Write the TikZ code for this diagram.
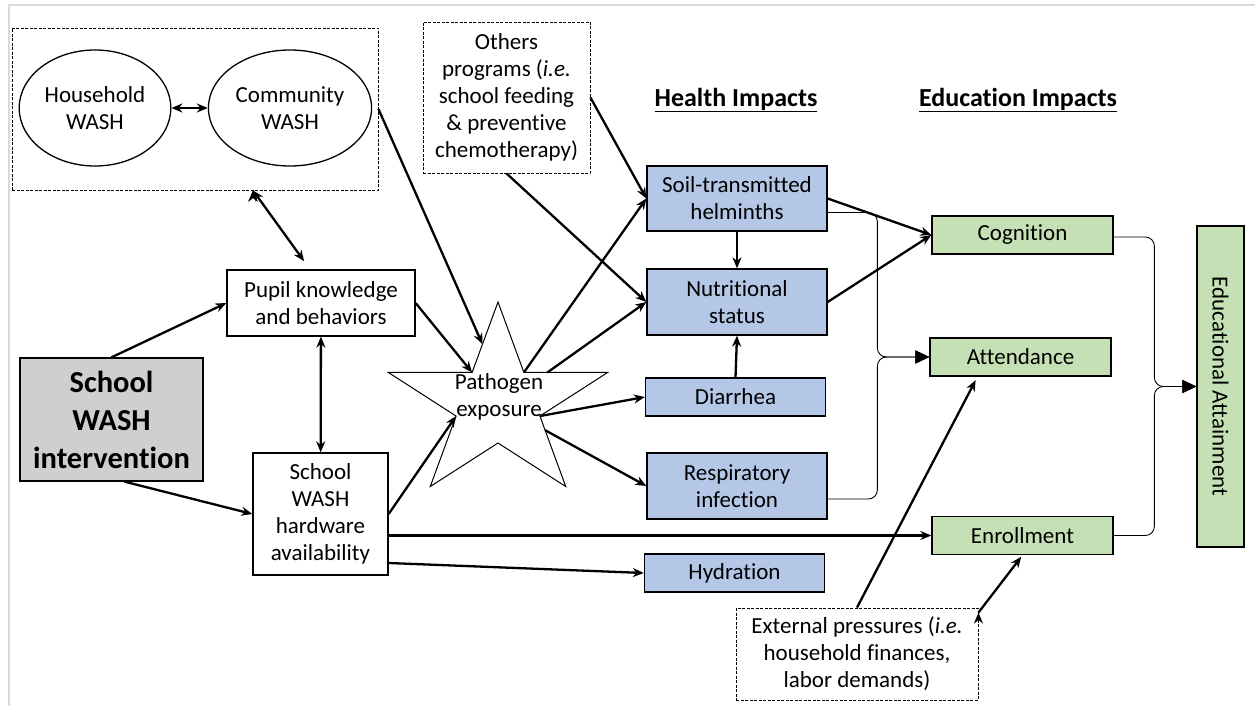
\documentclass[tikz,border=0pt]{standalone}
\usepackage{fontspec}
\setmainfont{Carlito}[Ligatures=CommonOff]
\usetikzlibrary{positioning,shapes,arrows.meta,calc}

\definecolor{healthblue}{HTML}{B4C7E7}
\definecolor{edugreen}{HTML}{C5E0B4}
\definecolor{introgray}{HTML}{D0CECE}

\begin{document}
\begin{tikzpicture}[x=1pt,y=-1pt,font=\fontsize{23}{27}\selectfont,
every node/.style={align=center},
box node/.style={draw,line width=1.3pt,inner sep=1pt},
dash node/.style={draw,line width=0.9pt,dash pattern=on 3pt off 1.5pt,inner sep=1pt},
wash node/.style={ellipse,draw,line width=1.3pt,minimum width=150,minimum height=116},
health node/.style={box node,fill=healthblue,minimum width=180},
edu node/.style={box node,fill=edugreen,minimum width=181,minimum height=38},
title node/.style={font=\bfseries\fontsize{26}{30}\selectfont},
link/.style={draw,line width=2.3pt,-{Stealth[length=11pt,width=9pt]}},
both link/.style={draw,line width=2.3pt,{Stealth[length=11pt,width=9pt]}-{Stealth[length=11pt,width=9pt]}},
join link/.style={draw,line width=0.9pt,rounded corners=9pt,-{Triangle[length=14pt,width=13pt]}}]
\useasboundingbox (0,0) rectangle (1255,706);
\draw[black!15,line width=2pt] (9,706) -- (9,5) -- (1255,5);

% context of the school
\node[dash node,minimum width=366,minimum height=162] (ctx) at (195,109) {};
\node[wash node] (hh) at (95,108) {Household\\WASH};
\node[wash node] (cw) at (290,108) {Community\\WASH};
\node[dash node,minimum width=167,minimum height=151] (oth) at (506.5,97.5) {Others\\programs (\textit{i.e.}\\school feeding\\\& preventive\\chemotherapy)};

% intervention
\node[box node,fill=introgray,minimum width=183,minimum height=123,font=\bfseries\fontsize{30.5}{38}\selectfont] (int) at (111.5,419.5) {School\\WASH\\intervention};
\node[box node,minimum width=188,minimum height=66] (pk) at (321,303) {Pupil knowledge\\and behaviors};
\node[box node,minimum width=135,minimum height=122] (hw) at (320.5,514) {School\\WASH\\hardware\\availability};

% pathogen exposure
\draw[line width=1pt,shift={(498,404)},xscale=1.13] (-90:102) coordinate (pe-0)
  \foreach \a in {1,...,9}{ -- ({-90+36*\a}:{ifthenelse(mod(\a,2)==0,102,39)}) coordinate (pe-\a)} -- cycle;
\node (pe) at (499,397) {Pathogen\\exposure};

% health impacts
\node[title node] (hi) at (736,100) {\underline{Health Impacts}};
\node[health node,minimum height=65] (sth) at (737,198.5) {Soil-transmitted\\helminths};
\node[health node,minimum height=66] (nut) at (737,302) {Nutritional\\status};
\node[health node,minimum height=38] (dia) at (735.5,397) {Diarrhea};
\node[health node,minimum height=66] (resp) at (737,486) {Respiratory\\infection};
\node[health node,minimum height=38] (hyd) at (734.5,573) {Hydration};

% education impacts
\node[title node] (ei) at (1018,100) {\underline{Education Impacts}};
\node[edu node] (cog) at (1022.5,235) {Cognition};
\node[edu node] (att) at (1020.5,357) {Attendance};
\node[edu node] (enr) at (1022.5,535.5) {Enrollment};
\node[box node,fill=edugreen,rotate=-90,minimum width=321,minimum height=47] (ea) at (1220.5,386.5) {Educational Attainment};
\node[dash node,minimum width=242,minimum height=92] (ext) at (857,654) {External pressures (\textit{i.e.}\\household finances,\\labor demands)};

\coordinate (hj) at ([xshift=-52]att.west);
\coordinate (ej) at ([xshift=-42]ea.south);

\path[both link] (hh) edge (cw)
([xshift=58]ctx.south) edge[shorten >=10pt] ([xshift=-11]pk.north)
(pk) edge (hw);

\path[link] (int.north) edge (pk.west)
([xshift=13]int.south) edge (hw.west)
(ctx.east) edge ($(pe-0)!0.6!(pe-9)$)
(pk.east) edge (pe-9)
(hw.east) edge (pe-7)
(hw.east |- enr.west) edge (enr.west)
([yshift=-49]hw.east) edge (hyd.west)
(oth.east) edge (sth.west)
(oth.south) edge (nut.west)
(pe-1) edge (sth.west)
($(pe-1)!0.28!(pe-2)$) edge (nut.west)
(pe-3) edge (dia.west)
($(pe-3)!0.2!(pe-4)$) edge (resp.west)
(sth.south) edge (nut.north)
(dia.north) edge (nut.south)
(sth.east) edge (cog.west)
(nut.east) edge (cog.west)
(ext.north) edge[shorten >=4pt] ([xshift=-43]att.south)
([yshift=-5]ext.north east) edge[shorten >=2pt] (enr.south);

\draw[join link] ([yshift=-14]sth.east) -| (hj) -- (att.west);
\draw[join link] ([yshift=-13]resp.east) -| (hj) -- (att.west);
\draw[join link] ([yshift=-2]cog.east) -| (ej) -- (ea.south);
\draw[join link] (enr.east) -| (ej) -- (ea.south);
\end{tikzpicture}
\end{document}
